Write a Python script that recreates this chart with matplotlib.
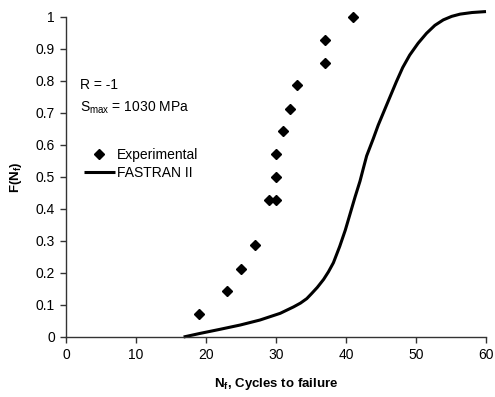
import matplotlib
matplotlib.use("Agg")
import matplotlib.pyplot as plt
import numpy as np

plt.rcParams['font.family'] = ['Liberation Sans', 'DejaVu Sans']

exp_cycles = [19, 23, 25, 27, 29, 30, 30, 30, 31, 32, 33, 37, 37, 41]
exp_prob = [0.071, 0.143, 0.214, 0.286, 0.429, 0.429, 0.5, 0.571, 0.643, 0.714, 0.786, 0.857, 0.929, 1.0]

fas_cycles = [16.8, 19.1, 22.0, 24.9, 27.7, 30.6, 32.5, 33.5, 34.4, 35.1, 35.9, 36.8, 37.5, 38.2, 39.1,
              39.9, 40.6, 41.3, 42.0, 42.5, 42.95, 43.9, 44.6, 45.8, 47.2, 48.1, 49.1,
              50.3, 51.5, 52.7, 53.9, 55.1, 56.3, 58.0, 60.0]
fas_prob = [0.0, 0.011, 0.024, 0.0375, 0.053, 0.074, 0.094, 0.106, 0.12, 0.136, 0.155, 0.18, 0.204, 0.232, 0.283,
            0.334, 0.386, 0.438, 0.487, 0.529, 0.566, 0.62, 0.662, 0.725, 0.798, 0.842, 0.881,
            0.918, 0.949, 0.974, 0.991, 1.002, 1.009, 1.014, 1.017]

xticks = [0, 10, 20, 30, 40, 50, 60]
yticks = [0, 0.1, 0.2, 0.3, 0.4, 0.5, 0.6, 0.7, 0.8, 0.9, 1]
ytick_labels = ['0', '0.1', '0.2', '0.3', '0.4', '0.5', '0.6', '0.7', '0.8', '0.9', '1']

fig = plt.figure(figsize=(4.95, 3.97), dpi=100)
ax = fig.add_axes([66/495, 60/397, 420/495, 320/397])

ax.plot(exp_cycles, exp_prob, linestyle='none', marker='D', markersize=5,
        color='black', label='Experimental', clip_on=False)
ax.plot(fas_cycles, fas_prob, color='black', linewidth=2.2, label='FASTRAN II',
        solid_capstyle='butt', solid_joinstyle='round', clip_on=False)

ax.set_xlim(0, 60)
ax.set_ylim(0, 1)
ax.set_xticks(xticks)
ax.set_yticks(yticks)
ax.set_yticklabels(ytick_labels)
for s in ['top', 'right']:
    ax.spines[s].set_visible(False)
for s in ['left', 'bottom']:
    ax.spines[s].set_linewidth(1.0)
    ax.spines[s].set_color('#333333')
ax.tick_params(direction='out', length=4, width=1, color='#333333', labelsize=10, pad=4)

ax.set_xlabel('N$_\\mathregular{f}$, Cycles to failure', fontsize=9.5, fontweight='bold', labelpad=10)
ax.set_ylabel('F(N$_\\mathregular{f}$)', fontsize=9.5, fontweight='bold', labelpad=8)

ax.text(80, 397-85, 'R = -1', fontsize=10, va='center', ha='left', transform=None)
ax.text(80, 397-108, 'S$_\\mathregular{max}$ = 1030 MPa', fontsize=10, va='center', ha='left', transform=None)

leg = ax.legend(loc='upper left', bbox_to_anchor=(84/495, (397-148)/397), bbox_transform=fig.transFigure,
                frameon=False, fontsize=10, handlelength=2.2, handletextpad=0.2, borderpad=0,
                borderaxespad=0, labelspacing=0.3)

fig.savefig('out.png', dpi=100)
